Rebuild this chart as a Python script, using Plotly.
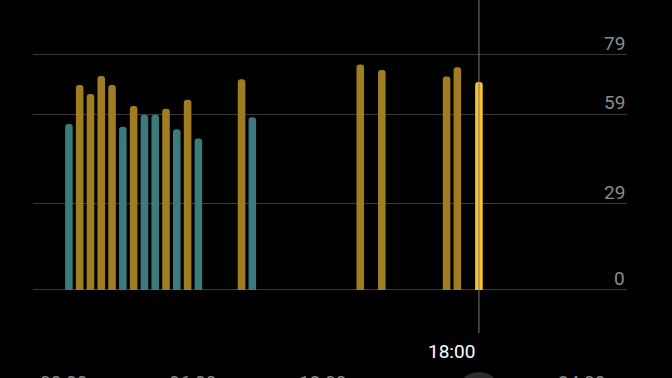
import plotly.graph_objects as go

# Half-hour slot indices (0 = 00:00-00:30) and values
slots = [0, 1, 2, 3, 4, 5, 6, 7, 8, 9, 10, 11, 12, 16, 17, 27, 29, 35, 36, 38]
values = [55.7, 68.8, 65.8, 71.8, 68.8, 54.8, 61.7, 58.8, 58.8, 60.8, 53.9, 63.8, 50.8,
          70.7, 58.0, 75.7, 73.8, 71.6, 74.7, 69.8]
kinds = ["low", "high", "high", "high", "high", "low", "high", "low", "low", "high", "low",
         "high", "low", "high", "low", "high", "high", "high", "high", "selected"]

y_ticks = [0, 29, 59, 79]
x_tick_hours = [0, 6, 12, 18, 24]
x_tick_text = ["00:00", "06:00", "12:00", "18:00", "24:00"]
highlight_hour = 18

palette = {"low": "#3b7b7e", "high": "#a07d20", "selected": "#fbc42b"}

hours = [s * 0.5 + 0.25 for s in slots]
colors = [palette[k] for k in kinds]
sel_x = hours[kinds.index("selected")]

fig = go.Figure()
fig.add_trace(go.Bar(
    x=hours, y=values, width=0.35,
    marker=dict(color=colors, line=dict(width=0), cornerradius="50%"),
    hoverinfo="skip",
))

fig.update_layout(
    width=672, height=378,
    margin=dict(l=33, r=45, t=0, b=45),
    paper_bgcolor="#000000", plot_bgcolor="#000000",
    showlegend=False,
    xaxis=dict(range=[-1.413, 26.11], showgrid=False, zeroline=False,
               showticklabels=False, ticks=""),
    yaxis=dict(range=[-14.43, 97.3], tickvals=y_ticks, showticklabels=False,
               gridcolor="#3a3a3a", gridwidth=1, zeroline=False, ticks=""),
    font=dict(family="Roboto", color="#8c8c8c"),
)

# crosshair line at selected bar
fig.add_shape(type="line", xref="x", yref="paper", x0=sel_x, x1=sel_x, y0=0, y1=1,
              line=dict(color="#7a7a7a", width=1), layer="above")
# drag handle circle
r_h = 22.5 / 21.58
fig.add_shape(type="circle", xref="x", yref="paper", x0=sel_x - r_h, x1=sel_x + r_h,
              y0=-0.252, y1=-0.117, fillcolor="#2c2c2c", line=dict(width=0))

# y labels above gridlines, right-aligned
for v in y_ticks:
    fig.add_annotation(x=1, xref="paper", y=v, yref="y", text=str(v), showarrow=False,
                       xanchor="right", yanchor="bottom", yshift=-2,
                       font=dict(size=19, color="#8c8c8c", family="Roboto"))

# x labels
for h, t in zip(x_tick_hours, x_tick_text):
    if h == highlight_hour:
        fig.add_annotation(x=h, xref="x", y=0, yref="paper", text=t, showarrow=False,
                           xanchor="center", yanchor="middle", yshift=-18,
                           font=dict(size=19, color="#ffffff", family="Roboto"))
    else:
        fig.add_annotation(x=h, xref="x", y=0, yref="paper", text=t, showarrow=False,
                           xanchor="center", yanchor="middle", yshift=-49,
                           font=dict(size=19, color="#8c8c8c", family="Roboto"))

fig.write_html("out.html")
